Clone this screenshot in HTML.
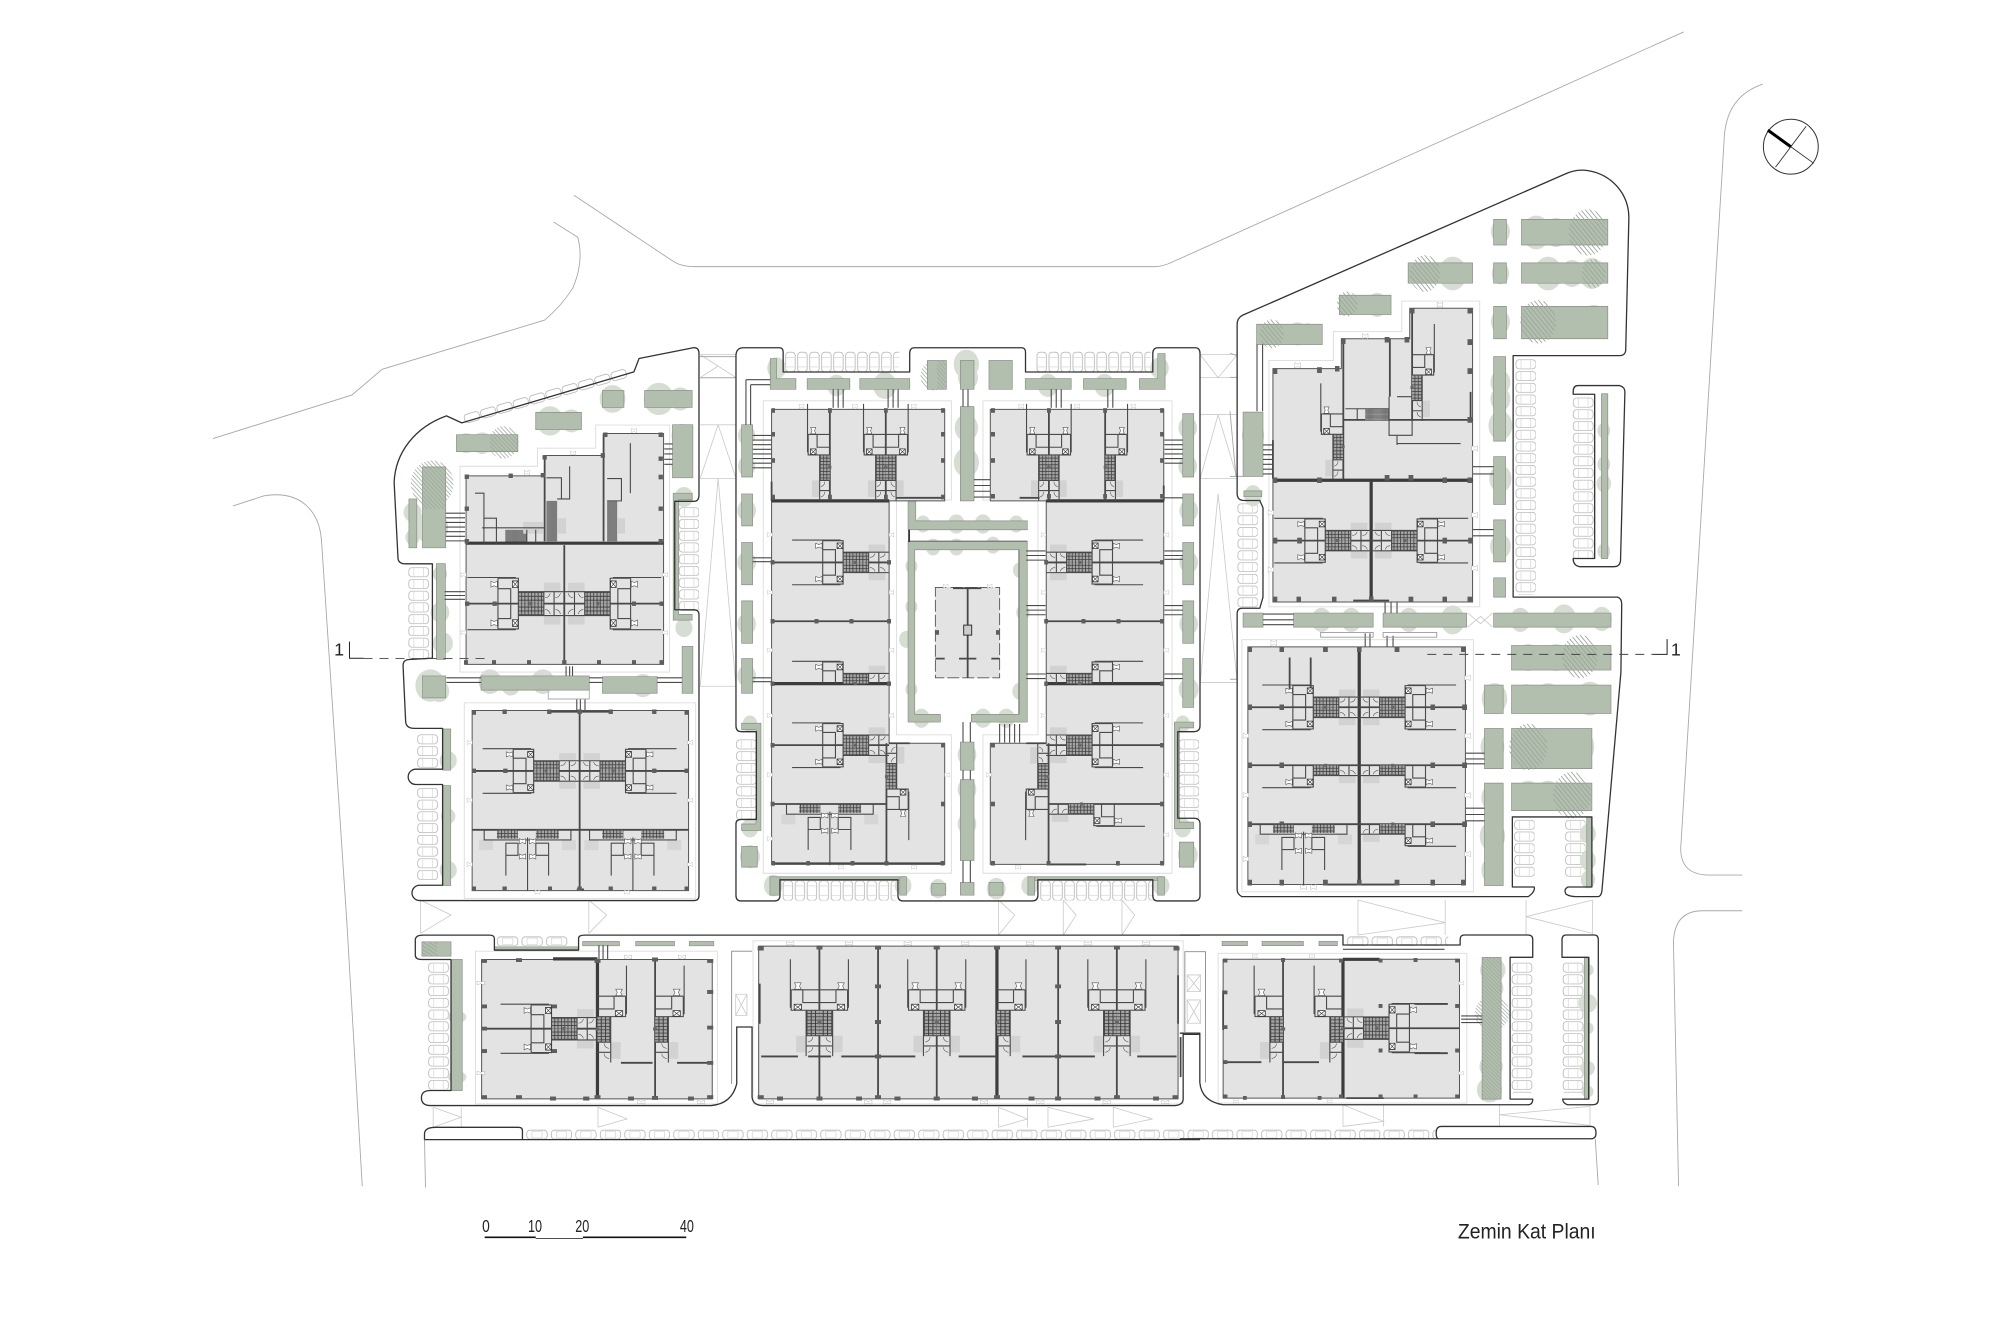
<!DOCTYPE html>
<html><head><meta charset="utf-8"><title>Zemin Kat Planı</title>
<style>
html,body{margin:0;padding:0;background:#fff}
svg{display:block}
svg *{vector-effect:non-scaling-stroke}
pattern *{vector-effect:none}
.o{fill:none;stroke:#333;stroke-width:1.3;stroke-linejoin:round}
.r{fill:none;stroke:#a8a8a8;stroke-width:.9}
.g{fill:none;stroke:#c9c9c9;stroke-width:.8}
.l{fill:none;stroke:#dcdcdc;stroke-width:.9}
.t{fill:#d6ddd3}
.hc{fill:url(#hx)}
.p{fill:#b2bfae;stroke:#8b8f88;stroke-width:.7}
.b{fill:#e3e3e3;stroke:#555;stroke-width:1}
.w1{fill:none;stroke:#4a4a4a;stroke-width:1.1}
.w2{fill:none;stroke:#484848;stroke-width:1.8}
.w3{fill:none;stroke:#3c3c3c;stroke-width:3.2}
.s{fill:url(#st)}
.col{fill:none;stroke:none;marker-start:url(#m);marker-mid:url(#m);marker-end:url(#m)}
.dr{fill:none;stroke:none;marker-start:url(#d);marker-mid:url(#d);marker-end:url(#d)}
text{font-family:"Liberation Sans",sans-serif;fill:#222}
</style></head><body>
<svg xmlns="http://www.w3.org/2000/svg" width="2000" height="1333" viewBox="0 0 1568 1045">
<defs>
<pattern id="cv" width="17" height="9.2" patternUnits="userSpaceOnUse"><rect x=".5" y="1" width="15.5" height="7.2" rx="2.5" fill="none" stroke="#a9a9a9" stroke-width=".55"/><path d="M4.5 1.5v6.2M12 1.5v6.2" stroke="#c4c4c4" stroke-width=".4"/></pattern>
<pattern id="cu" width="9.4" height="17" patternUnits="userSpaceOnUse"><rect x="1" y=".5" width="7.4" height="15.5" rx="2.5" fill="none" stroke="#a9a9a9" stroke-width=".55"/><path d="M1.5 4.5h6.2M1.5 12h6.2" stroke="#c4c4c4" stroke-width=".4"/></pattern>
<pattern id="cw" width="19.2" height="9" patternUnits="userSpaceOnUse"><rect x="1" y="1" width="16" height="7" rx="2.5" fill="none" stroke="#a9a9a9" stroke-width=".55"/><path d="M5 2h8v5h-8z" fill="none" stroke="#c4c4c4" stroke-width=".4"/></pattern>
<pattern id="cd" width="13.3" height="8" patternUnits="userSpaceOnUse"><rect x=".6" y=".6" width="12" height="6.8" rx="2.4" fill="none" stroke="#a9a9a9" stroke-width=".55"/></pattern>
<pattern id="st" width="2.6" height="2.6" patternUnits="userSpaceOnUse"><rect width="2.6" height="2.6" fill="#a6a6a6"/><path d="M0 .3H2.6M.3 0V2.6" stroke="#3a3a3a" stroke-width=".6"/></pattern>
<pattern id="hx" width="8" height="8" patternUnits="userSpaceOnUse" patternTransform="rotate(45)"><path d="M0 1H8" stroke="#9aa69a" stroke-width="2"/></pattern>
<marker id="m" viewBox="-2 -2 4 4" markerWidth="12" markerHeight="12" markerUnits="userSpaceOnUse"><rect x="-2" y="-2" width="4" height="4" fill="#5e5e5e"/></marker>
<marker id="d" viewBox="-3 -3 6 6" markerWidth="17" markerHeight="17" markerUnits="userSpaceOnUse"><path d="M-2.5-2L0-.8L2.5-2V2L0 .8L-2.5 2Z" fill="#fff" stroke="#666" stroke-width=".7"/></marker>
<g id="x"><rect x="-2.2" y="-2.2" width="4.4" height="4.4" fill="#fff" stroke="#333" stroke-width=".8"/><path d="M-2-2L2 2M2-2L-2 2" stroke="#333" stroke-width=".6"/></g>
<path id="bt" d="M-2.5-2L0-1L2.5-2V2L0 1L-2.5 2Z" fill="#fff" stroke="#555" stroke-width=".6"/>
<g id="h">
<rect x="-16" y="-14" width="13" height="6" fill="#d2d2d2"/>
<rect x="-36" y="-8" width="20" height="8" class="s"/>
<path class="w1" d="M-76-17.5H-38M-52-17H-36V0M-52-17V0M-52-10H-42V0M-36-8H0M-16-8V0M-8-8V0"/>
<path fill="none" stroke="#555" stroke-width=".6" d="M-15-4Q-12-4-11-7M-7-4Q-4-4-3-7"/>
<rect x="-27.5" y="-1.2" width="2.4" height="2.4" fill="#666"/>
<use href="#x" x="-38.5" y="-13"/><use href="#bt" x="-55" y="-13"/>
</g>
<g id="t">
<rect x="-24" y="0" width="16.5" height="7" class="s"/><rect x="6.5" y="0" width="18" height="7" class="s"/>
<rect x="-38" y="8" width="11" height="8" fill="#d6d6d6"/><rect x="27" y="8" width="11" height="8" fill="#d6d6d6"/>
<path class="w1" d="M-34 0V8H34V0M-17 10.5H-7.5V20H-17ZM6.5 10.5H16.5V20H6.5ZM-17 20V36M16.5 20V36"/>
<path class="w1" d="M0 6V48"/>
<use href="#bt" x="-4" y="9"/><use href="#bt" x="4" y="9"/><use href="#bt" x="-4" y="21"/><use href="#bt" x="4" y="21"/>
</g>
</defs>
<rect width="1568" height="1045" fill="#fff"/>

<!-- roads -->
<path class="r" d="M450 153L528 205Q534 209 545 209H905Q912 209 920 205L1320 25"/>
<path class="r" d="M167 343.8L275.8 309.7L299.6 289.5L427 250.9Q440 240 449 226Q458 205 453 186L434 174"/>
<path class="r" d="M182.6 396.6L207 388.7C235 384 250 400 252 423L272 724L284 930"/>
<path class="r" d="M1382 66Q1355 75 1352 105L1318 660Q1315 686 1340 686H1366M1366 714H1335Q1312 714 1312 740L1316 930"/>
<path class="r" d="M332.8 893.5L333.6 931M1250.7 893L1253 929"/>

<!-- connection lines -->
<path class="g" d="M549 278H577M549 296H577M549 278L577 296M549 296L563 287M549 333H577M549 375H577M563 333L549 375M563 333L577 375M563 375L549 538M563 375L577 538M549 538H577"/>
<path class="g" d="M941 278H970M941 296H970M941 278L955 296L970 278M941 375H970M955 325L941 375M955 325L970 375M955 387L941 535M955 387L970 535M941 535H970M941 325H970"/>
<g transform="translate(313.6 705.6) scale(.4 .262)"><path class="g" d="M40 0L100 45L40 100M40 0V100M370 0L405 45L370 100M370 0V100M1173 0L1205 45L1173 105M1173 0V105M1300 0L1325 45L1300 105M1300 0V105M1415 0L1440 45L1415 105M1415 0V105M65 620L120 650L65 680M65 620V680M120 620V680M388 620L445 655L388 680M388 620V680M1173 620L1230 655L1173 680M1173 620V680M1230 620V680M1270 620L1360 655L1270 680M1270 620V680M1398 620L1475 655L1398 680M1398 620V680"/></g>
<g transform="translate(925 705.6) scale(.261 .261)"><path class="g" d="M535 0L797 68L535 105M535 0V105M797 0V105M1040 50L1240 0M1040 50L1240 100M1040 0V105M1240 0V105M490 615L612 665L490 680M490 615V680M612 615V680M960 645L1230 620M960 645L1230 677M960 615V680M1232 615V680"/></g>

<!-- cars -->
<g transform="translate(362.6 325) rotate(-16)"><rect width="133" height="8" fill="url(#cd)"/></g>
<g transform="translate(320 444)"><rect width="17" height="73" fill="url(#cv)"/></g>
<g transform="translate(327 575)"><rect width="17" height="27" fill="url(#cv)"/></g>
<g transform="translate(327 617)"><rect width="17" height="74" fill="url(#cv)"/></g>
<g transform="translate(532 397)"><rect width="16" height="82" fill="url(#cv)"/></g>
<g transform="translate(615 275.6)"><rect width="90" height="16" fill="url(#cu)"/></g>
<g transform="translate(812 275.6)"><rect width="90" height="16" fill="url(#cu)"/></g>
<g transform="translate(613 690)"><rect width="90" height="16" fill="url(#cu)"/></g>
<g transform="translate(815 690)"><rect width="90" height="16" fill="url(#cu)"/></g>
<g transform="translate(577 579)"><rect width="16" height="63" fill="url(#cv)"/></g>
<g transform="translate(924 579)"><rect width="16" height="63" fill="url(#cv)"/></g>
<g transform="translate(1188 281)"><rect width="16" height="185" fill="url(#cv)"/></g>
<g transform="translate(970 394)"><rect width="16" height="83" fill="url(#cv)"/></g>
<g transform="translate(1233 311)"><rect width="17" height="127" fill="url(#cv)"/></g>
<g transform="translate(1187 642)"><rect width="16" height="46" fill="url(#cv)"/></g>
<g transform="translate(1227 642)"><rect width="16" height="46" fill="url(#cv)"/></g>
<g transform="translate(335.6 754)"><rect width="17" height="100" fill="url(#cv)"/></g>
<g transform="translate(1185 754)"><rect width="17" height="103" fill="url(#cv)"/></g>
<g transform="translate(1225 754)"><rect width="17" height="103" fill="url(#cv)"/></g>
<g transform="translate(389 733.5)"><rect width="58" height="8" fill="url(#cw)"/></g>
<g transform="translate(1055.5 733.5)"><rect width="80" height="8" fill="url(#cw)"/></g>
<g transform="translate(412 885)"><rect width="714" height="8.5" fill="url(#cw)"/></g>

<!-- WEST -->
<g transform="translate(156.8 250.9) scale(.28 .3016)">
<g class="t"><circle cx="745" cy="320" r="26"/><circle cx="790" cy="320" r="28"/><circle cx="980" cy="262" r="38"/><circle cx="1040" cy="262" r="30"/><circle cx="1155" cy="205" r="36"/><circle cx="1285" cy="205" r="42"/><circle cx="1345" cy="205" r="30"/><circle cx="1350" cy="300" r="30"/><circle cx="1350" cy="380" r="30"/><circle cx="650" cy="540" r="45"/><circle cx="595" cy="500" r="25"/><circle cx="595" cy="565" r="20"/><circle cx="672" cy="660" r="20"/><circle cx="672" cy="760" r="26"/><circle cx="680" cy="840" r="28"/><circle cx="645" cy="950" r="42"/><circle cx="670" cy="965" r="28"/><circle cx="812" cy="940" r="32"/><circle cx="870" cy="950" r="26"/><circle cx="960" cy="940" r="32"/><circle cx="1240" cy="950" r="30"/><circle cx="695" cy="1145" r="24"/><circle cx="695" cy="1290" r="20"/><circle cx="695" cy="1430" r="24"/><circle cx="1355" cy="460" r="26"/><circle cx="1355" cy="800" r="24"/></g>
<g class="hc"><circle cx="850" cy="318" r="42"/><circle cx="650" cy="425" r="60"/></g>
<path class="p" d="M718 298H890V342H718ZM940 240H1068V285H940ZM1127 183H1187V227H1127ZM1245 183H1378V227H1245ZM1323 272H1380V410H1323ZM623 382H688V592H623ZM585 465H607V592H585ZM662 633H687V882H662ZM623 925H688V982H623ZM787 925H1090V962H787ZM1127 927H1280V970H1127ZM1350 848H1380V970H1350ZM680 1063H702V1170H680ZM680 1210H702V1470H680ZM1325 450H1378V467H1340V765H1378V780H1325Z"/>
<g class="hc"><rect x="623" y="382" width="65" height="110"/><rect x="812" y="298" width="78" height="44"/></g>
<path class="l" d="M1108 273H1315V915H728V380H945V333H1108ZM740 995H1388V1503H740Z"/>
<path class="r" d="M1400 95H1500M1400 150H1500"/>
<path class="w1" d="M688 502H742M688 514H742M688 526H742M688 538H742M688 550H742M688 562H742M688 574H742M685 706H742M685 716H742M685 726H742M1300 322H1323M1300 335H1323M1300 348H1323M1300 362H1323M1300 375H1323M1025 900V925M1035 900V925M1043 900V925M690 930H787M690 942H787M1090 930H1127M1090 942H1127M1280 930H1350M1280 942H1350M1055 985V1015M1065 985V1015M1078 985V1015"/>
<path fill="none" stroke="#aaa" stroke-width=".9" d="M975 962H1090V985H975Z"/>
<polygon class="b" points="745,405 965,405 965,352 1130,352 1130,295 1298,295 1298,895 745,895"/>
<rect class="b" x="762" y="1015" width="606" height="468"/>
<path class="s" d="M970 470H1000V575H970ZM1140 470H1168V575H1140ZM855 545H915V578H855Z"/>
<path fill="#d2d2d2" d="M1000 515H1025V555H1000ZM905 525H960V555H905ZM1170 515H1190V555H1170Z"/>
<path class="w3" d="M745 580H1298"/>
<path class="w2" d="M1020 585V890M745 737H1298M1063 1015V1480M762 1172H1368M762 1325H1368M980 1018H1155M1130 295V575M965 352V575M1055 1480H1075"/>
<path class="w1" d="M770 450H795V580M795 515H830V580M790 540H965M1035 380V465H1000M970 410H1012V465M1205 320V450M1140 412H1180V470H1140M915 545V578M940 545V578"/>
<polyline class="col" points="745,890 823,890 921,890 1020,890 1117,890 1215,890 1292,890"/>
<polyline class="col" points="747,407 870,405 960,403 965,357 1128,352 1135,298 1290,298 1290,360 1290,408 1290,490 1290,575 747,575 747,490"/>
<polyline class="col" points="748,737 825,737 1215,737 1292,737"/>
<polyline class="col" points="767,1020 853,1018 978,1018 1063,1018 1150,1018 1272,1018 1362,1020"/>
<polyline class="col" points="767,1172 855,1172 1272,1172 1362,1172"/>
<polyline class="col" points="767,1478 853,1478 980,1478 1063,1478 1150,1478 1272,1478 1362,1478"/>
<polyline class="dr" points="915,396 1045,346 1215,287 738,662 738,812 1302,662 1302,812 755,1098 755,1248 755,1415 1372,1098 1372,1248 1372,1415 945,1487 1195,1487"/>
</g>
<path class="o" d="M544 272.5L501 281L497 291.5L362 331.5L350 326C325 335 310 355 309 378L312 437Q312 442 318 442H339V516L321 517Q316 517 316 522L318 565Q318 571 325 571H347V603H326A6 6 0 0 0 326 615H347V694H329A6 6 0 0 0 329 706H544Q548 706 548 702V482Q548 478 544 478H529V393H544Q548 393 548 388V277Q548 272.5 544 272.5Z"/>

<!-- CENTRAL -->
<g transform="translate(572.3 250.9) scale(.261 .3016)">
<g class="t"><circle cx="140" cy="125" r="28"/><circle cx="320" cy="170" r="28"/><circle cx="465" cy="170" r="35"/><circle cx="710" cy="115" r="38"/><circle cx="715" cy="150" r="30"/><circle cx="710" cy="280" r="35"/><circle cx="710" cy="370" r="38"/><circle cx="1290" cy="125" r="28"/><circle cx="955" cy="170" r="30"/><circle cx="1125" cy="170" r="30"/><circle cx="1375" cy="280" r="28"/><circle cx="1375" cy="380" r="28"/><circle cx="50" cy="300" r="26"/><circle cx="50" cy="380" r="26"/><circle cx="50" cy="495" r="28"/><circle cx="50" cy="630" r="28"/><circle cx="50" cy="790" r="28"/><circle cx="50" cy="925" r="28"/><circle cx="1378" cy="495" r="28"/><circle cx="1378" cy="630" r="28"/><circle cx="1378" cy="790" r="28"/><circle cx="1378" cy="960" r="30"/><circle cx="60" cy="1050" r="22"/><circle cx="60" cy="1320" r="25"/><circle cx="1360" cy="1050" r="22"/><circle cx="1360" cy="1320" r="25"/><circle cx="60" cy="1395" r="30"/><circle cx="1375" cy="1390" r="30"/><circle cx="712" cy="1130" r="28"/><circle cx="712" cy="1220" r="28"/><circle cx="712" cy="1310" r="28"/><circle cx="130" cy="1470" r="28"/><circle cx="520" cy="1470" r="25"/><circle cx="625" cy="1478" r="25"/><circle cx="800" cy="1478" r="28"/><circle cx="900" cy="1470" r="25"/><circle cx="1295" cy="1470" r="25"/><circle cx="545" cy="640" r="18"/><circle cx="545" cy="745" r="18"/><circle cx="530" cy="830" r="22"/><circle cx="545" cy="960" r="18"/><circle cx="870" cy="650" r="20"/><circle cx="880" cy="760" r="20"/><circle cx="870" cy="965" r="22"/><circle cx="580" cy="530" r="22"/><circle cx="680" cy="530" r="25"/><circle cx="760" cy="530" r="25"/><circle cx="860" cy="530" r="22"/><circle cx="610" cy="590" r="22"/><circle cx="680" cy="590" r="22"/><circle cx="790" cy="585" r="22"/><circle cx="575" cy="1035" r="25"/><circle cx="760" cy="1035" r="25"/><circle cx="830" cy="1035" r="25"/></g>
<circle class="hc" cx="610" cy="145" r="38"/>
<path class="p" d="M121 100H140V152H198V180H121ZM232 152H360V180H232ZM390 152H540V180H390ZM593 105H650V180H593ZM692 105H733V180H692ZM778 105H848V180H778ZM887 152H1025V180H887ZM1062 152H1190V180H1062ZM1285 87H1307V180H1230V152H1285ZM35 272H68V408H35ZM35 452H68V535H35ZM35 578H68V688H35ZM35 730H68V840H35ZM35 880H68V970H35ZM1360 243H1393V408H1360ZM1360 452H1393V535H1360ZM1360 578H1393V688H1360ZM1360 730H1393V840H1360ZM1360 880H1393V1007H1360ZM692 225H733V470H692ZM692 1097H733V1170H692ZM692 1195H733V1405H692ZM692 1462H733V1495H692ZM35 1048H93V1327H35V1310H78V1065H35ZM35 1368H82V1422H35ZM1335 1045H1393V1060H1350V1305H1393V1322H1335ZM1350 1357H1393V1422H1350ZM606 1465H648V1495H606ZM778 1462H820V1495H778ZM120 1447H150V1495H120ZM510 1447H530V1495H510ZM895 1447H915V1495H895ZM1285 1447H1305V1495H1285ZM150 1447H510V1457H150ZM915 1447H1285V1457H915Z"/>
<path class="p" d="M535 470H558V522H893V545H535ZM535 575H893V1045H725V1025H868V597H555V1025H632V1045H535Z"/>
<path fill="none" stroke="#777" stroke-width="1.2" d="M535 575H893M868 597V1025"/>
<rect x="622" y="105" width="28" height="75" class="hc"/>
<path class="l" d="M100 210H665V468H500V1078H665V1438H100ZM760 210H1328V1438H760V1078H925V468H760Z"/>
<path class="w1" d="M68 300H125M68 312H125M68 324H125M68 336H125M68 348H125M68 360H125M68 372H125M68 384H125M68 618H125M68 628H125M68 930H125M68 940H125M1305 312H1360M1305 324H1360M1305 336H1360M1305 348H1360M1305 360H1360M1305 372H1360M1305 600H1360M1305 612H1360M1305 622H1360M1305 742H1360M1305 754H1360M1305 766H1360M1305 920H1360M1305 932H1360M1305 462H1360M890 600H948M890 612H948M890 624H948M890 742H948M890 754H948M890 766H948M890 920H948M890 932H948M310 180V228M325 180V228M340 180V228M475 180V228M490 180V228M505 180V228M965 180V228M980 180V228M995 180V228M1135 180V228M1150 180V228M700 180V225M715 180V225M733 415H782M733 430H782M733 445H782M733 460H782M810 1050V1098M825 1050V1098M840 1050V1098M855 1050V1098M870 1050V1098M700 1045V1097M722 1045V1097M700 1170V1195M722 1170V1195M700 1405V1462M722 1405V1462M48 155V272M62 168V272M48 155H121M62 168H121"/>
<path fill="none" stroke="#333" stroke-width="1.8" d="M538 545V577"/>
<polygon class="b" points="125,232 645,232 645,470 125,470"/>
<polygon class="b" points="125,470 478,470 478,1100 645,1100 645,1415 125,1415"/>
<polygon class="b" points="782,232 1303,232 1303,470 782,470"/>
<polygon class="b" points="950,470 1303,470 1303,1415 782,1415 782,1100 950,1100"/>
<rect x="617" y="695" width="193" height="235" fill="#e3e3e3" stroke="#555" stroke-width=".9" stroke-dasharray="12 3"/>
<path class="w2" d="M714 697V930M670 697H755M617 880H645M688 880H740M785 880H810"/>
<rect x="702" y="793" width="24" height="26" fill="#ccc" stroke="#333"/>
<polyline class="col" points="622,812 805,812"/>
<path class="w3" d="M125 470H478M950 470H1303M125 945H478M950 945H1303"/>
<path class="w2" d="M300 232V470M468 232V470M958 232V470M1127 232V470M125 630H478M950 630H1303M125 783H478M950 783H1303M125 1105H478M950 1105H1303M125 1258H470M957 1258H1303M470 1100V1415M957 1100V1415M125 1412H640M957 1415H1070M125 420V470M1303 430V470M478 1100H540M890 1100H950M500 462H645M870 462H930"/>
<polyline class="col" points="130,235 300,235 468,235 640,235 640,297 640,365 640,460 468,460 300,460 130,460 130,365 130,297"/>
<polyline class="col" points="790,235 958,235 1127,235 1298,235 1298,297 1298,365 1298,458 1127,458 958,458 790,458 790,365 790,297"/>
<polyline class="col" points="128,630 128,783 128,945 128,1105 128,1258"/>
<polyline class="col" points="478,630 478,783 478,945"/>
<polyline class="col" points="1298,630 1298,783 1298,945 1298,1105 1298,1258"/>
<polyline class="col" points="950,630 950,783 950,945"/>
<polyline class="col" points="130,1412 235,1412 368,1412 470,1412 638,1412 640,1258 640,1105"/>
<polyline class="col" points="790,1412 957,1412 1165,1412 1298,1412"/>
<polyline class="col" points="790,1105 790,1258"/>
<polyline class="col" points="260,783 365,783 1062,783 1167,783"/>
<polyline class="dr" points="215,224 375,224 552,224 875,224 1043,224 1212,224 120,558 120,708 120,858 120,1028 120,1182 120,1348 485,558 485,708 485,858 485,1028 942,558 942,708 942,858 942,1028 1310,558 1310,708 1310,858 1310,1028 1310,1182 1310,1338 652,1182 778,1182 333,1422 553,1422 865,1422 648,692 780,692"/>
</g>
<path class="o" d="M577 279Q577 272.6 583 272.6H611Q614 272.6 614 276V291.6H713.2V277Q713.2 272.6 717 272.6H800.7Q804 272.6 804 276V291.6H903.8V277Q903.8 272.6 908 272.6H937Q940.8 272.6 940.8 277V569Q940.8 573.6 936 573.6H923.4V641.5H936Q940.8 641.5 940.8 646V702Q940.8 706.3 936 706.3H907.7Q903.8 706.3 903.8 702V689.7H813.7V702Q813.7 706.3 809 706.3H708Q704 706.3 704 702V689.7H611.5V702Q611.5 706.3 607 706.3H581Q577 706.3 577 702V646Q577 642.4 581 642.4H593V573.6H581Q577 573.6 577 569Z"/>

<!-- EAST -->
<g transform="translate(964.3 125.4) scale(.3118 .3787)">
<g class="t"><circle cx="680" cy="148" r="24"/><circle cx="770" cy="150" r="35"/><circle cx="820" cy="150" r="30"/><circle cx="680" cy="235" r="22"/><circle cx="800" cy="235" r="35"/><circle cx="860" cy="235" r="28"/><circle cx="910" cy="235" r="32"/><circle cx="680" cy="335" r="24"/><circle cx="860" cy="335" r="32"/><circle cx="915" cy="335" r="35"/><circle cx="560" cy="235" r="35"/><circle cx="370" cy="300" r="25"/><circle cx="170" cy="360" r="24"/><circle cx="195" cy="360" r="22"/><circle cx="680" cy="460" r="25"/><circle cx="680" cy="495" r="25"/><circle cx="680" cy="550" r="30"/><circle cx="680" cy="660" r="28"/><circle cx="680" cy="800" r="26"/><circle cx="940" cy="560" r="16"/><circle cx="940" cy="630" r="16"/><circle cx="940" cy="670" r="18"/><circle cx="940" cy="810" r="16"/><circle cx="58" cy="570" r="28"/><circle cx="58" cy="625" r="26"/><circle cx="58" cy="695" r="22"/><circle cx="230" cy="952" r="25"/><circle cx="305" cy="952" r="25"/><circle cx="450" cy="952" r="25"/><circle cx="560" cy="952" r="30"/><circle cx="730" cy="952" r="25"/><circle cx="840" cy="950" r="30"/><circle cx="935" cy="950" r="25"/><circle cx="750" cy="1030" r="28"/><circle cx="820" cy="1030" r="28"/><circle cx="745" cy="1115" r="30"/><circle cx="800" cy="1115" r="32"/><circle cx="855" cy="1115" r="28"/><circle cx="905" cy="1115" r="35"/><circle cx="665" cy="1115" r="32"/><circle cx="660" cy="1215" r="30"/><circle cx="830" cy="1215" r="38"/><circle cx="880" cy="1215" r="36"/><circle cx="660" cy="1320" r="28"/><circle cx="660" cy="1400" r="32"/><circle cx="660" cy="1470" r="28"/><circle cx="750" cy="1315" r="30"/><circle cx="800" cy="1315" r="30"/><circle cx="900" cy="1395" r="20"/><circle cx="900" cy="1450" r="20"/><circle cx="900" cy="1490" r="18"/></g>
<path class="p" d="M663 123H695V176H663ZM733 123H950V176H733ZM448 213H610V255H448ZM663 213H695V255H663ZM733 213H950V255H733ZM663 303H695V370H663ZM733 303H950V370H733ZM275 280H405V320H275ZM67 340H232V382H67ZM663 407H693V582H663ZM663 614H693V713H663ZM663 745H693V832H663ZM663 865H693V905H663ZM33 522H83V655H33ZM33 938H83V967H33ZM160 938H360V967H160ZM385 938H595V967H385ZM663 938H958V967H663ZM708 1005H958V1056H708ZM708 1087H958V1146H708ZM640 1087H687V1146H640ZM640 1177H687V1260H640ZM708 1177H910V1260H708ZM640 1290H687V1502H640ZM708 1290H910V1347H708ZM934 484H950V825H934ZM897 1360H910V1505H897ZM35 685H80V697H35Z"/>
<g class="hc"><circle cx="900" cy="150" r="48"/><circle cx="490" cy="235" r="38"/><circle cx="775" cy="335" r="45"/><circle cx="880" cy="1028" r="45"/><circle cx="750" cy="1215" r="48"/><circle cx="860" cy="1315" r="48"/><circle cx="295" cy="298" r="26"/><circle cx="105" cy="360" r="30"/><circle cx="915" cy="235" r="30"/></g>
<path class="l" d="M432 292H628V925H98V415H260V355H432ZM30 993H612V1515H30Z"/>
<path class="r" d="M0 450L18 450M0 655H33M0 400L18 405M0 520L15 655M0 1075H18"/>
<path class="g" d="M598 938L630 960L660 938M598 967L630 945L660 967"/>
<path class="w1" d="M83 590H108M83 600H108M83 610H108M83 620H108M83 630H108M83 640H108M83 650H108M68 382V520M82 382V520M83 940H160M83 952H160M83 962H160M610 635H663M610 650H663M610 765H663M610 778H663M390 915V938M405 915V938M420 915V938M592 1228H640M592 1240H640M592 1250H640M592 1342H640M592 1355H640M592 1368H640M340 980V1008M352 980V1008M395 985V1008M410 985V1008"/>
<path fill="none" stroke="#999" stroke-width=".9" d="M228 978H360V988H228ZM385 978H520V988H385Z"/>
<polygon class="b" points="108,432 280,432 280,370 452,370 452,307 610,307 610,915 108,915"/>
<rect class="b" x="45" y="1008" width="547" height="492"/>
<path class="w3" d="M108 663H610M355 665V910M325 1008V1500"/>
<path class="w2" d="M108 788H610M285 538H610M285 370V660M402 370V490M458 307V540M45 1133H592M45 1253H592M45 1375H592M150 1030V1095M203 1030V1095M108 580V660M605 480V540M240 1500H420M310 912H400"/>
<path class="s" d="M340 515H400V540H340Z"/>
<path class="w1" d="M290 515H400V540M420 490H458V570H400V490M420 587H580M420 570V590M320 515V540"/>
<polyline class="col" points="113,910 173,910 262,910 355,910 455,910 540,910 603,910"/>
<polyline class="col" points="113,437 225,435 270,432 285,375 395,372 445,372 458,312 603,312 603,377 603,437 603,538"/>
<polyline class="col" points="50,1013 130,1013 240,1013 325,1013 420,1013 587,1013"/>
<polyline class="col" points="50,1496 130,1496 240,1496 325,1496 420,1496 510,1496 587,1496"/>
<polyline class="col" points="113,663 225,663 395,658 455,658 540,663 603,663"/>
<polyline class="col" points="113,788 175,788 540,788 605,788"/>
<polyline class="col" points="50,1133 130,1133 510,1133 590,1133"/>
<polyline class="col" points="50,1253 130,1253 510,1253 590,1253"/>
<polyline class="col" points="50,1375 130,1375 510,1375 590,1375"/>
<polyline class="dr" points="170,425 340,365 528,300 103,730 103,848 615,597 615,735 615,845 110,1000 597,1072 597,1192 597,1315 597,1437 40,1192 40,1315 40,1447 185,1505 210,1505"/>
</g>
<g transform="translate(964.3 125.4) scale(.3118 .3787)">
<path class="o" d="M18 340Q18 328 30 322L840 30Q870 18 900 22C960 30 1003 70 1003 120L995 395Q993 405 980 405H712V905H975Q985 908 985 920L983 1060L935 1515Q932 1525 925 1525H870Q855 1525 845 1520Q838 1510 850 1505H910V1360H710V1505H765Q768 1515 750 1525H30Q18 1520 18 1510V940Q18 928 30 928H75L83 905V720L75 705H35Q18 705 18 690Z"/>
<path class="o" d="M875 467H980Q993 470 993 480L982 830Q980 842 965 842H880Q863 840 863 825H917V485H863V480Q863 467 875 467Z"/>
</g>

<!-- SOUTH -->
<g transform="translate(313.6 705.6) scale(.4 .262)">
<g class="t"><circle cx="112" cy="350" r="18"/><circle cx="112" cy="530" r="18"/></g>
<path class="p" d="M43 125H100V168H43ZM100 178H122V570H100ZM358 124H430V137H358ZM462 124H538V137H462ZM567 124H615V137H567ZM185 140H350V148H185Z"/>
<rect x="43" y="125" width="30" height="43" class="hc"/>
<path class="l" d="M148 153H622V610H148ZM692 122H1535V610H692Z"/>
<path class="g" d="M658 282H680V345H658ZM658 282L680 345M680 282L658 345"/>
<path class="w1" d="M390 135V178M398 135V178M407 135V178"/>
<rect class="b" x="160" y="178" width="452" height="417"/>
<rect class="b" x="703" y="138" width="822" height="457"/>
<path class="w3" d="M387 178V595M1170 138V595M300 176H387"/>
<path class="w2" d="M160 385H387M500 178V595M822 138V595M937 138V595M1052 138V595M1290 138V595M1405 138V595M433 487H495M543 487H610M708 468H780M800 468H845M865 468H1010M1095 468H1170M1220 468H1362M1445 468H1522M705 250V370M1525 225V370M1530 410V530"/>
<polyline class="col" points="165,182 233,180 387,182 500,178 608,182 608,275 608,382 608,487"/>
<polyline class="col" points="165,318 165,385 165,452 302,318 302,452"/>
<polyline class="col" points="165,590 233,590 300,594 365,594 387,590 453,594 500,592 570,594 608,590"/>
<polyline class="col" points="707,145 822,142 937,142 1052,142 1170,142 1290,142 1405,142 1522,145"/>
<polyline class="col" points="707,590 745,594 822,594 900,594 937,590 975,594 1052,594 1127,594 1170,590 1238,594 1290,594 1367,594 1405,590 1482,594 1520,590"/>
<polyline class="col" points="937,258 937,365 937,468 1290,258 1290,365 1290,468"/>
<polyline class="dr" points="765,130 880,130 995,130 1108,130 1235,130 1348,130 1462,130 447,170 553,170 158,248 158,518 725,605 918,605 955,605 1145,605 1255,605 1385,605 1500,605 473,605 590,605"/>
<path class="o" d="M100 178H42Q30 178 30 165V120Q30 105 45 105H175Q185 105 185 115V150H350V115Q350 105 362 105H1568M100 178V570H60Q42 570 42 592Q42 615 60 615H610Q650 610 660 550V380H690V590Q692 615 712 615H1520Q1535 612 1535 595V402H1568"/>
<path class="o" d="M48 717V700Q48 680 70 680H232Q240 680 240 690V717M48 717H1568"/>
<path fill="none" stroke="#888" stroke-width=".9" d="M690 153H650V550"/>
</g>
<g transform="translate(925 705.6) scale(.261 .261)">
<g class="t"><circle cx="940" cy="210" r="38"/><circle cx="940" cy="265" r="32"/><circle cx="935" cy="500" r="35"/><circle cx="930" cy="570" r="38"/><circle cx="1225" cy="210" r="18"/><circle cx="1225" cy="310" r="28"/><circle cx="1225" cy="385" r="18"/><circle cx="1225" cy="505" r="22"/><circle cx="1225" cy="575" r="18"/></g>
<circle class="hc" cx="938" cy="340" r="52"/>
<path class="p" d="M127 124H203V137H127ZM247 124H371V137H247ZM418 124H473V137H418ZM908 172H965V598H908ZM1215 172H1230V598H1215Z"/>
<rect x="908" y="172" width="57" height="426" class="hc"/>
<path class="l" d="M115 160H862V610H115Z"/>
<path class="g" d="M22 225H62V275H22ZM22 225L62 275M62 225L22 275M22 300H62V370H22ZM22 300L62 370M62 300L22 370"/>
<path class="w1" d="M845 348H908M845 358H908M845 368H908M490 148H795"/>
<rect class="b" x="130" y="178" width="710" height="417"/>
<path class="w3" d="M490 178V595M490 178H600"/>
<path class="w2" d="M310 178V595M490 385H840M130 487H245M310 487H418M705 312H805M705 460H805M130 272V390M500 595H612"/>
<polyline class="col" points="137,182 310,180 484,182 603,182 708,180 833,182"/>
<polyline class="col" points="137,277 137,382 137,487"/>
<polyline class="col" points="603,318 603,452 833,318 833,452"/>
<polyline class="col" points="137,590 195,594 310,592 420,594 484,590 603,590 708,590 833,590"/>
<polyline class="dr" points="225,168 397,168 845,250 845,520 168,605 450,605"/>
<path class="o" d="M0 105H490V135H842V118Q842 105 855 105H1045Q1060 105 1060 118V172H992V598H1060Q1060 615 1045 615H130Q65 605 60 548V400H0"/>
<path fill="none" stroke="#888" stroke-width=".9" d="M15 400V155H77V548"/>
<path class="o" d="M1160 105H1245Q1257 105 1257 120V600Q1257 615 1240 615H1165Q1150 610 1150 598H1228V172H1148V120Q1148 105 1160 105Z"/>
<path class="o" d="M0 717H778Q770 717 770 700Q770 680 785 680H1235Q1250 680 1250 700Q1250 717 1235 717H770"/>
</g>

<!-- cores -->
<g>
<use href="#h" transform="translate(442.4 473.2) scale(1 1.17)"/><use href="#h" transform="translate(442.4 473.2) scale(1 -1.17)"/><use href="#h" transform="translate(442.4 473.2) scale(-1 1.17)"/><use href="#h" transform="translate(442.4 473.2) scale(-1 -1.17)"/>
<use href="#h" transform="translate(454.4 604.4)"/><use href="#h" transform="translate(454.4 604.4) scale(1 -1)"/><use href="#h" transform="translate(454.4 604.4) scale(-1 1)"/><use href="#h" transform="translate(454.4 604.4) scale(-1 -1)"/>
<use href="#t" transform="translate(413.6 650.5)"/><use href="#t" transform="translate(496.2 650.5)"/><use href="#t" transform="translate(650.6 630.3)"/><use href="#t" transform="translate(1022 646)"/>
<use href="#h" transform="translate(650.6 392.6) rotate(90) scale(1 -1)"/>
<use href="#h" transform="translate(694.5 392.6) rotate(90) scale(1 -1)"/><use href="#h" transform="translate(694.5 392.6) rotate(90)"/>
<use href="#h" transform="translate(822.3 392.6) rotate(90) scale(1 -1)"/><use href="#h" transform="translate(822.3 392.6) rotate(90)"/>
<use href="#h" transform="translate(866.5 392.6) rotate(90)"/>
<use href="#h" transform="translate(697 440.9)"/><use href="#h" transform="translate(697 440.9) scale(1 -1)"/>
<use href="#h" transform="translate(697 535.9)"/>
<use href="#h" transform="translate(697 584.2)"/><use href="#h" transform="translate(697 584.2) scale(1 -1)"/>
<use href="#h" transform="translate(820.2 440.9) scale(-1 1)"/><use href="#h" transform="translate(820.2 440.9) scale(-1 -1)"/>
<use href="#h" transform="translate(820.2 535.9) scale(-1 1)"/>
<use href="#h" transform="translate(820.2 584.2) scale(-1 1)"/><use href="#h" transform="translate(820.2 584.2) scale(-1 -1)"/>
<use href="#h" transform="translate(821.6 630.3) scale(-1 -1)"/>
<use href="#h" transform="translate(695 582.6) rotate(-90) scale(1 -1)"/>
<use href="#h" transform="translate(821.6 582.6) rotate(-90)"/>
<use href="#h" transform="translate(1075 423.8)"/><use href="#h" transform="translate(1075 423.8) scale(1 -1)"/><use href="#h" transform="translate(1075 423.8) scale(-1 1)"/><use href="#h" transform="translate(1075 423.8) scale(-1 -1)"/>
<use href="#h" transform="translate(1053 376.5) rotate(90) scale(1 -1)"/>
<use href="#h" transform="translate(1107 330) rotate(90)"/>
<use href="#h" transform="translate(1065.6 554.5)"/><use href="#h" transform="translate(1065.6 554.5) scale(1 -1)"/><use href="#h" transform="translate(1065.6 554.5) scale(-1 1)"/><use href="#h" transform="translate(1065.6 554.5) scale(-1 -1)"/>
<use href="#h" transform="translate(1065.6 600) scale(1 -1)"/><use href="#h" transform="translate(1065.6 600) scale(-1 -1)"/>
<use href="#h" transform="translate(1065.6 646) scale(-1 -1)"/>
<use href="#h" transform="translate(468.4 806.5) scale(1 1.1)"/><use href="#h" transform="translate(468.4 806.5) scale(1 -1.1)"/>
<use href="#h" transform="translate(468.4 833) rotate(90) scale(1 1.3)"/>
<use href="#h" transform="translate(513.6 833) rotate(90) scale(1 1.3)"/>
<use href="#h" transform="translate(642.4 828) rotate(90) scale(1 1.3)"/><use href="#h" transform="translate(642.4 828) rotate(90) scale(1 -1.3)"/>
<use href="#h" transform="translate(734.4 828) rotate(90) scale(1 1.3)"/><use href="#h" transform="translate(734.4 828) rotate(90) scale(1 -1.3)"/>
<use href="#h" transform="translate(781.6 828) rotate(90) scale(1 1.3)"/>
<use href="#h" transform="translate(875.6 828) rotate(90) scale(1 1.3)"/><use href="#h" transform="translate(875.6 828) rotate(90) scale(1 -1.3)"/>
<use href="#h" transform="translate(1006 833) rotate(90) scale(1 -1.3)"/>
<use href="#h" transform="translate(1053 833) rotate(90) scale(1 -1.3)"/>
<use href="#h" transform="translate(1053 806) scale(-1 1.1)"/><use href="#h" transform="translate(1053 806) scale(-1 -1.1)"/>
</g>

<!-- section markers -->
<path fill="none" stroke="#444" stroke-width=".9" stroke-dasharray="9 7" d="M285 516.3H384"/>
<path fill="none" stroke="#444" stroke-width=".9" stroke-dasharray="9 7" d="M1119 513H1296"/>
<path fill="none" stroke="#222" stroke-width="1" d="M274 503V516H285M1296 513H1307V501"/>
<text x="262" y="514" font-size="14">1</text>
<text x="1310" y="514" font-size="14">1</text>

<!-- north -->
<circle cx="1404" cy="115" r="21.5" fill="#fff" stroke="#333" stroke-width="1"/>
<path fill="none" stroke="#333" stroke-width=".9" d="M1404 115L1422 128M1392 131L1416 99"/>
<path fill="none" stroke="#000" stroke-width="3" d="M1386 102L1404 115"/>

<!-- scale -->
<path fill="none" stroke="#111" stroke-width="1.6" d="M380 970H420M457 970H538"/>
<path fill="none" stroke="#333" stroke-width=".9" d="M420 971H457"/>
<text x="378" y="966" font-size="14" textLength="6" lengthAdjust="spacingAndGlyphs">0</text>
<text x="414" y="966" font-size="14" textLength="11" lengthAdjust="spacingAndGlyphs">10</text>
<text x="451" y="966" font-size="14" textLength="11" lengthAdjust="spacingAndGlyphs">20</text>
<text x="533" y="966" font-size="14" textLength="11" lengthAdjust="spacingAndGlyphs">40</text>

<text x="1143" y="971" font-size="16.5" textLength="108" lengthAdjust="spacingAndGlyphs">Zemin Kat Planı</text>
</svg>
</body></html>
